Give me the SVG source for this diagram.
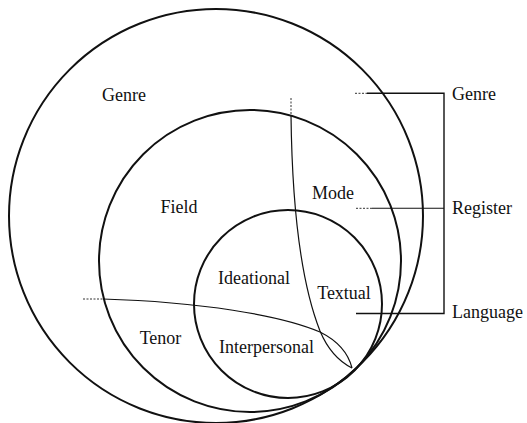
<svg xmlns="http://www.w3.org/2000/svg" width="527" height="423" viewBox="0 0 527 423">
<style>
.c{fill:none;stroke:#111;stroke-width:2}
.cv{fill:none;stroke:#111;stroke-width:1.2}
.dot{fill:none;stroke:#333;stroke-width:1;stroke-dasharray:2 1.5}
.br{fill:none;stroke:#111;stroke-width:1.4}
text{font-family:"Liberation Serif","Times New Roman",serif;font-size:18px;fill:#111}
.m{text-anchor:middle}
</style>
<rect width="527" height="423" fill="#fff"/>
<g id="genre-circle"><circle class="c" cx="216" cy="216" r="207"/><text class="m" x="124" y="101">Genre</text></g>
<g id="register-circle"><circle class="c" cx="250" cy="261" r="151"/></g>
<g id="language-circle"><circle class="c" cx="288" cy="304" r="94"/></g>
<g id="field"><text class="m" x="179" y="213">Field</text></g>
<g id="mode"><text class="m" x="333" y="199">Mode</text></g>
<g id="tenor"><text class="m" x="160.5" y="344">Tenor</text></g>
<g id="ideational"><text class="m" x="254" y="284">Ideational</text></g>
<g id="textual"><text class="m" x="344" y="299">Textual</text></g>
<g id="interpersonal"><text class="m" x="266.5" y="353">Interpersonal</text></g>
<g id="label-genre"><text x="452" y="100">Genre</text></g>
<g id="label-register"><text x="452" y="214">Register</text></g>
<g id="label-language"><text x="452" y="318">Language</text></g>
<g id="connectors">
<path class="dot" d="M291 98 L291 115"/>
<path class="cv" d="M291 115 C292 200 300 280 320 331 C328 350 340 362 352 368"/>
<path class="dot" d="M83 299 L103 299"/>
<path class="cv" d="M103 299 C200 302 280 315 320 332 C338 341 348 352 352 368"/>
<path class="dot" d="M355 93.3 L367 93.3"/>
<path class="br" d="M367 93.3 H444 V313.5 H356"/>
<path class="dot" d="M356 208.3 L372 208.3"/>
<path class="br" d="M372 208.3 H444" style="stroke-width:1.1"/>
</g>
</svg>
